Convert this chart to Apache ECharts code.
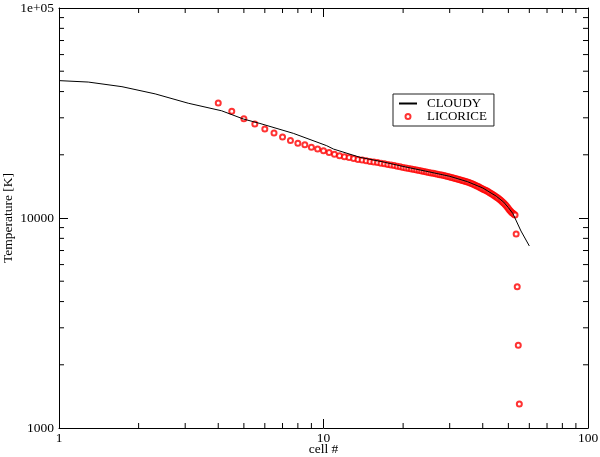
<!DOCTYPE html>
<html>
<head>
<meta charset="utf-8">
<script src="https://cdn.jsdelivr.net/npm/echarts@6/dist/echarts.min.js"></script>
<style>html,body{margin:0;padding:0;background:#fff;}#c{width:600px;height:457px;}</style>
</head>
<body>
<div id="c"></div>
<script>
// ---- data ----
const cloudyX = [1, 1.29, 1.73, 2.31, 3.08, 4.12, 4.98, 5.75, 7.69, 10.28, 10.9, 13.74, 16.79, 20, 25, 30, 35, 40, 45, 48, 50, 52, 55.8, 60];
const cloudyY = [45100, 44400, 42200, 39000, 35200, 32400, 29600, 28200, 25300, 22100, 21300, 19450, 18500, 17600, 16600, 15800, 14900, 13900, 12700, 11900, 11200, 10500, 8670, 7360];

const licoriceX = [4, 4.5, 5, 5.5, 6, 6.5, 7, 7.5, 8, 8.5, 9, 9.5, 10, 10.5, 11, 11.5, 12, 12.5, 13, 13.5,
  14, 14.5, 15, 15.5, 16, 16.5, 17, 17.5, 18, 18.5, 19, 19.5, 20, 20.5, 21, 21.5, 22, 22.5, 23, 23.5,
  24, 24.5, 25, 25.5, 26, 26.5, 27, 27.5, 28, 28.5, 29, 29.5, 30, 30.5, 31, 31.5, 32, 32.5, 33, 33.5,
  34, 34.5, 35, 35.5, 36, 36.5, 37, 37.5, 38, 38.5, 39, 39.5, 40, 40.5, 41, 41.5, 42, 42.5, 43, 43.5,
  44, 44.5, 45, 45.5, 46, 46.5, 47, 47.5, 48, 48.5, 49, 49.5, 50, 50.5, 51, 51.5, 52, 52.5, 53, 53.5,
  54, 54.5, 55];
const licoriceY = [35300, 32200, 29700, 28000, 26500, 25400, 24300, 23400, 22700, 22300, 21700, 21300, 20900, 20500, 20100, 19800, 19600, 19400, 19200, 19000,
  18900, 18750, 18600, 18480, 18360, 18240, 18120, 18000, 17880, 17760, 17650, 17530, 17420, 17320, 17230, 17130, 17040, 16940, 16850, 16760,
  16670, 16580, 16490, 16400, 16330, 16240, 16170, 16080, 16010, 15920, 15850, 15760, 15680, 15600, 15510, 15430, 15340, 15260, 15170, 15090,
  15010, 14920, 14840, 14740, 14640, 14550, 14440, 14330, 14220, 14110, 13990, 13870, 13750, 13640, 13540, 13430, 13320, 13200, 13080, 12970,
  12840, 12720, 12590, 12470, 12340, 12210, 12080, 11930, 11790, 11620, 11460, 11280, 11100, 10920, 10760, 10630, 10530, 10430, 10330, 8390,
  4710, 2480, 1300];

const X_MIN = 1, X_MAX = 100;
const Y_MIN = 1000, Y_MAX = 100000;
const xMinorTicks = [2, 3, 4, 5, 6, 7, 8, 9, 20, 30, 40, 50, 60, 70, 80, 90];
const yMinorTicks = [2000, 3000, 4000, 5000, 6000, 7000, 8000, 9000, 20000, 30000, 40000, 50000, 60000, 70000, 80000, 90000];
const yTickLabels = {1000: '1000', 10000: '10000', 100000: '1e+05'};

// ---- chart ----
const FONT = 'Liberation Serif';
const chart = echarts.init(document.getElementById('c'), null, {renderer: 'canvas'});

const axisLine = {show: true, lineStyle: {color: '#000', width: 1}};
const majorTick = {show: true, inside: true, length: 9, lineStyle: {color: '#000', width: 1}};

function tickLine(x1, y1, x2, y2) {
  return {type: 'line', shape: {x1, y1, x2, y2}, style: {stroke: '#000', lineWidth: 1}};
}
function renderMinorX(params, api) {
  const v = api.value(0);
  const b = api.coord([v, Y_MIN]);
  const t = api.coord([v, Y_MAX]);
  return {type: 'group', children: [tickLine(b[0], b[1], b[0], b[1] - 5), tickLine(t[0], t[1], t[0], t[1] + 5)]};
}
function renderMinorY(params, api) {
  const v = api.value(1);
  const l = api.coord([X_MIN, v]);
  const r = api.coord([X_MAX, v]);
  return {type: 'group', children: [tickLine(l[0], l[1], l[0] + 5, l[1]), tickLine(r[0], r[1], r[0] - 5, r[1])]};
}

const option = {
  animation: false,
  backgroundColor: '#fff',
  grid: {left: 59, top: 8, right: 12, bottom: 29, containLabel: false, outerBoundsMode: 'none'},
  legend: {
    data: [
      {name: 'CLOUDY', itemStyle: {color: 'rgba(0,0,0,0)', borderWidth: 0, opacity: 0}},
      {name: 'LICORICE'}
    ],
    orient: 'vertical',
    left: 393, top: 94,
    itemWidth: 18, itemHeight: 5, itemGap: 0,
    padding: [3, 7, 3, 5],
    borderColor: '#222', borderWidth: 1,
    textStyle: {fontFamily: FONT, fontSize: 13, color: '#000', lineHeight: 13, padding: [0, 0, 0, 5]},
    selectedMode: false
  },
  xAxis: [
    {
      type: 'log', logBase: 10, min: X_MIN, max: X_MAX, position: 'bottom',
      axisLine, axisTick: majorTick, splitLine: {show: false}, minorTick: {show: false},
      axisLabel: {color: '#000', fontFamily: FONT, fontSize: 13.5, margin: 3,
        formatter: v => String(Math.round(v))},
      name: 'cell #', nameLocation: 'middle', nameGap: 14, nameMoveOverlap: false,
      nameTextStyle: {color: '#000', fontFamily: FONT, fontSize: 13.5}
    },
    {
      type: 'log', logBase: 10, min: X_MIN, max: X_MAX, position: 'top',
      axisLine, axisTick: majorTick, splitLine: {show: false}, axisLabel: {show: false}
    }
  ],
  yAxis: [
    {
      type: 'log', logBase: 10, min: Y_MIN, max: Y_MAX, position: 'left',
      axisLine, axisTick: majorTick, splitLine: {show: false}, minorTick: {show: false},
      axisLabel: {color: '#000', fontFamily: FONT, fontSize: 13.5, margin: 5,
        formatter: v => yTickLabels[Math.round(v)] || String(Math.round(v))},
      name: 'Temperature [K]', nameLocation: 'middle', nameGap: 44, nameMoveOverlap: false,
      nameTextStyle: {color: '#000', fontFamily: FONT, fontSize: 13.5}
    },
    {
      type: 'log', logBase: 10, min: Y_MIN, max: Y_MAX, position: 'right',
      axisLine, axisTick: majorTick, splitLine: {show: false}, axisLabel: {show: false}
    }
  ],
  series: [
    {
      name: 'CLOUDY', type: 'line', xAxisIndex: 0, yAxisIndex: 0,
      data: cloudyX.map((x, i) => [x, cloudyY[i]]),
      symbol: 'none', smooth: false,
      lineStyle: {color: '#000', width: 1}, itemStyle: {color: '#000'}
    },
    {
      name: 'LICORICE', type: 'scatter', xAxisIndex: 0, yAxisIndex: 0,
      data: licoriceX.map((x, i) => [x, licoriceY[i]]),
      symbol: 'emptyCircle', symbolSize: 5,
      itemStyle: {color: '#ff0000', borderColor: '#ff0000', borderWidth: 0.6}
    },
    {
      name: 'xminor', type: 'custom', xAxisIndex: 0, yAxisIndex: 0, silent: true,
      data: xMinorTicks.map(v => [v, Y_MIN]), renderItem: renderMinorX, clip: false
    },
    {
      name: 'yminor', type: 'custom', xAxisIndex: 0, yAxisIndex: 0, silent: true,
      data: yMinorTicks.map(v => [X_MIN, v]), renderItem: renderMinorY, clip: false
    }
  ]
};
chart.setOption(option);
</script>
</body>
</html>
